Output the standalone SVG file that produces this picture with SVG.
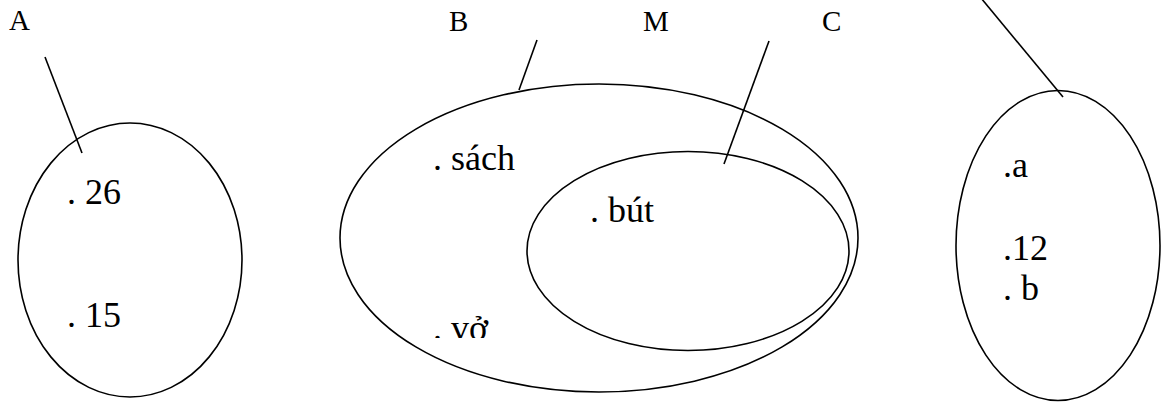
<svg xmlns="http://www.w3.org/2000/svg" width="1162" height="402" viewBox="0 0 1162 402">
<defs><clipPath id="cv"><rect x="400" y="280" width="150" height="58"/></clipPath></defs>
<rect width="1162" height="402" fill="#fff"/>
<g id="connectors" fill="none" stroke="#000" stroke-width="1.6">
<line x1="45" y1="57" x2="82" y2="153"/>
<line x1="537" y1="40" x2="519" y2="90"/>
<line x1="769" y1="41" x2="724" y2="164"/>
<line x1="981" y1="-2" x2="1063" y2="97"/>
</g>
<g id="A">
<ellipse fill="none" stroke="#000" stroke-width="1.6" cx="130" cy="260" rx="112" ry="137"/>
<text font-family="Liberation Serif" font-size="29" x="9" y="30">A</text>
<text font-family="Liberation Serif" font-size="36" x="67" y="204">. 26</text>
<text font-family="Liberation Serif" font-size="36" x="67" y="327">. 15</text>
</g>
<g id="B">
<ellipse fill="none" stroke="#000" stroke-width="1.6" cx="599" cy="238" rx="259" ry="154"/>
<text font-family="Liberation Serif" font-size="29" x="449" y="31">B</text>
<text font-family="Liberation Serif" font-size="36" x="433" y="170">. sách</text>
<text font-family="Liberation Serif" font-size="36" x="433" y="340" clip-path="url(#cv)">. vở</text>
</g>
<g id="M">
<text font-family="Liberation Serif" font-size="29" x="643" y="31">M</text>
</g>
<g id="C">
<ellipse fill="none" stroke="#000" stroke-width="1.6" cx="688" cy="251" rx="161" ry="99.5"/>
<text font-family="Liberation Serif" font-size="29" x="822" y="31">C</text>
<text font-family="Liberation Serif" font-size="36" x="590" y="222">. bút</text>
</g>
<g id="D">
<ellipse fill="none" stroke="#000" stroke-width="1.6" cx="1058" cy="245.5" rx="102" ry="155"/>
<text font-family="Liberation Serif" font-size="36" x="1003" y="177">.a</text>
<text font-family="Liberation Serif" font-size="36" x="1003" y="260">.12</text>
<text font-family="Liberation Serif" font-size="36" x="1003" y="300">. b</text>
</g>
</svg>
